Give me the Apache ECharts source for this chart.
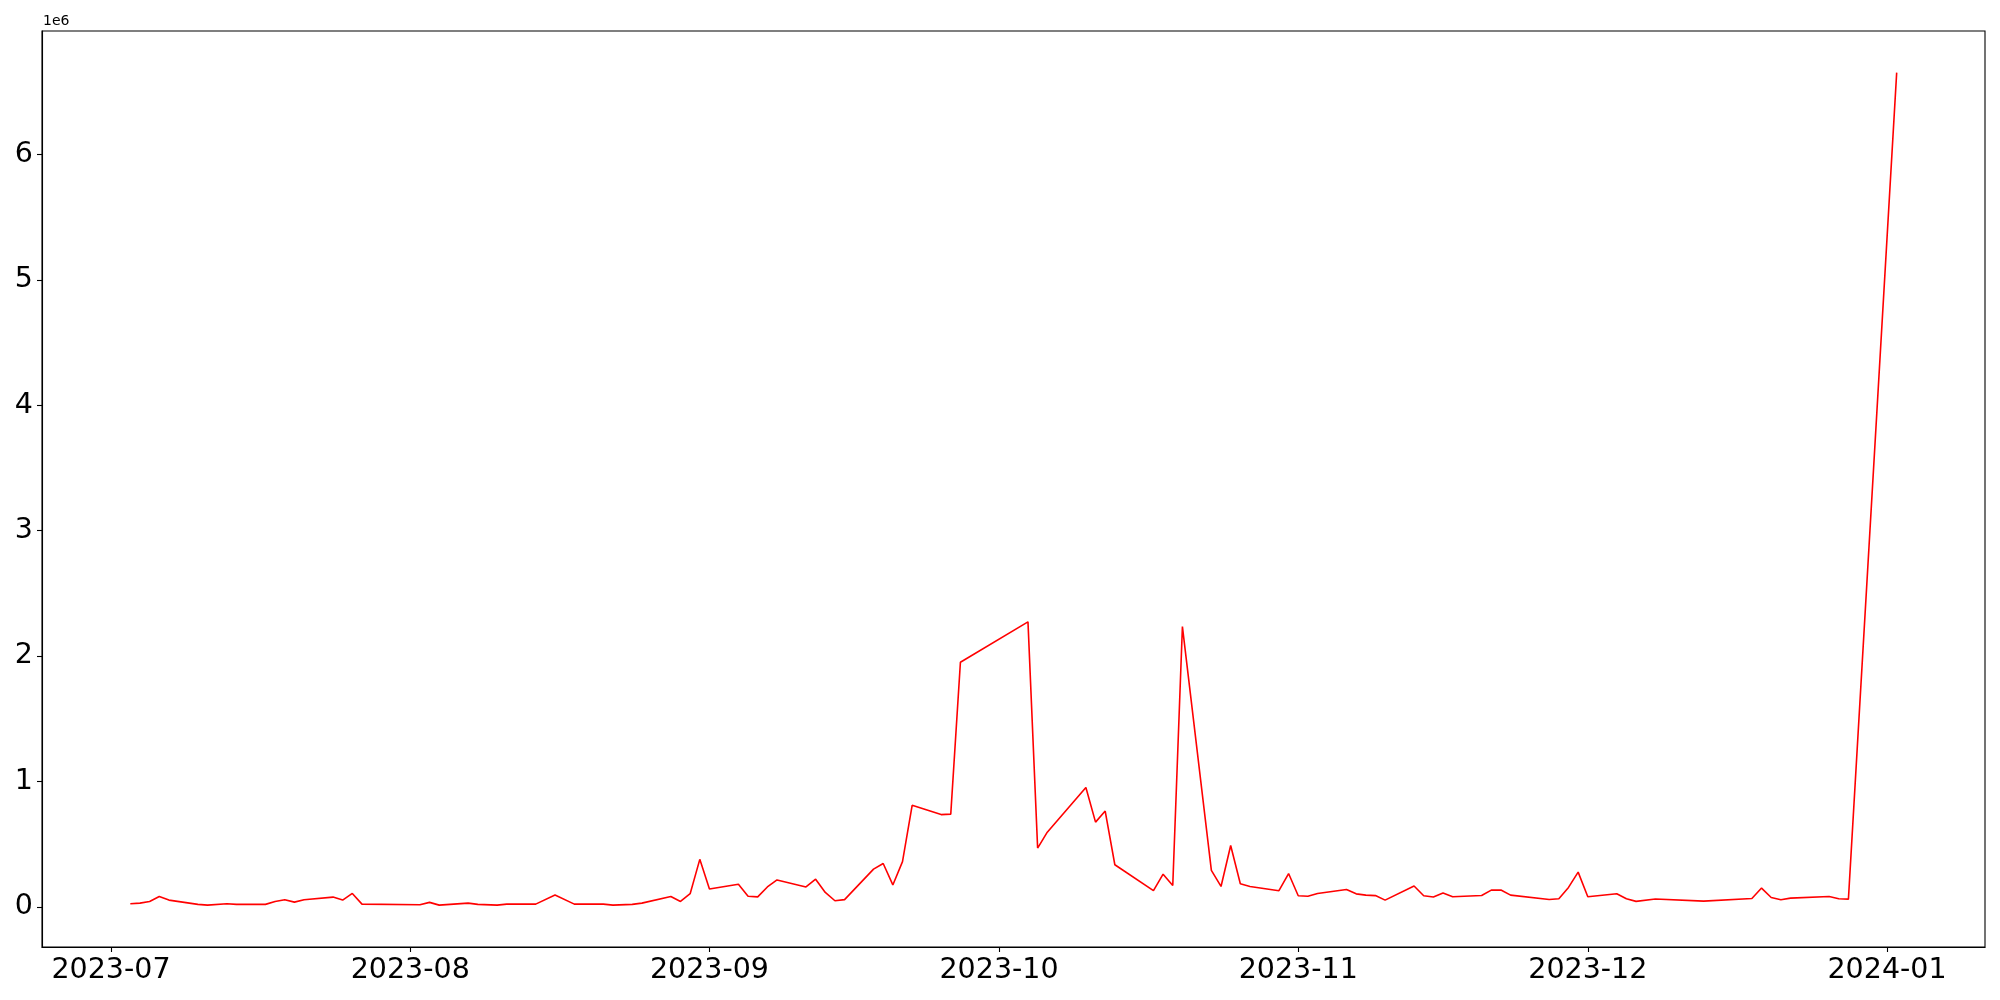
<!DOCTYPE html>
<html>
<head>
<meta charset="utf-8">
<script src="https://cdn.jsdelivr.net/npm/echarts@6/dist/echarts.min.js"></script>
<style>
html,body{margin:0;padding:0;background:#fff;}
#chart{width:2000px;height:1000px;}
</style>
</head>
<body>
<div id="chart"></div>
<script>
// dates (YYYY-MM-DD) and values
const dates = [
'2023-07-03','2023-07-04','2023-07-05','2023-07-06','2023-07-07','2023-07-10','2023-07-11','2023-07-13','2023-07-14',
'2023-07-17','2023-07-18','2023-07-19','2023-07-20','2023-07-21','2023-07-24','2023-07-25','2023-07-26','2023-07-27',
'2023-08-02','2023-08-03','2023-08-04','2023-08-07','2023-08-08','2023-08-10','2023-08-11','2023-08-14','2023-08-16',
'2023-08-18','2023-08-21','2023-08-22','2023-08-24','2023-08-25','2023-08-28','2023-08-29','2023-08-30','2023-08-31',
'2023-09-01','2023-09-04','2023-09-05','2023-09-06','2023-09-07','2023-09-08','2023-09-11','2023-09-12','2023-09-13',
'2023-09-14','2023-09-15','2023-09-18','2023-09-19','2023-09-20','2023-09-21','2023-09-22','2023-09-25','2023-09-26',
'2023-09-27','2023-10-04','2023-10-05','2023-10-06','2023-10-10','2023-10-11','2023-10-12','2023-10-13','2023-10-17',
'2023-10-18','2023-10-19','2023-10-20','2023-10-23','2023-10-24','2023-10-25','2023-10-26','2023-10-27','2023-10-30',
'2023-10-31','2023-11-01','2023-11-02','2023-11-03','2023-11-06','2023-11-07','2023-11-08','2023-11-09','2023-11-10',
'2023-11-13','2023-11-14','2023-11-15','2023-11-16','2023-11-17','2023-11-20','2023-11-21','2023-11-22','2023-11-23',
'2023-11-27','2023-11-28','2023-11-29','2023-11-30','2023-12-01','2023-12-04','2023-12-05','2023-12-06','2023-12-08',
'2023-12-13','2023-12-18','2023-12-19','2023-12-20','2023-12-21','2023-12-22','2023-12-26','2023-12-27','2023-12-28',
'2024-01-02'
];
const values = [
24000,29000,42000,82000,53000,19000,13000,24000,19000,
19000,42000,56000,37000,56000,77000,53000,106000,21000,
16000,35000,13000,29000,19000,13000,21000,21000,93000,
21000,21000,13000,19000,29000,82000,42000,104000,378000,
141000,180000,84000,79000,158000,214000,158000,220000,114000,
48000,57000,300000,345000,174000,360000,809000,735000,739000,
1950000,2272000,468000,595000,951000,675000,763000,335000,128000,
260000,170000,2235000,290000,162000,489000,183000,162000,128000,
265000,88000,84000,106000,138000,103000,93000,89000,53000,
166000,88000,78000,110000,80000,90000,133000,133000,93000,
58000,64000,154000,276000,80000,104000,64000,43000,62000,
45000,66000,149000,74000,56000,69000,82000,64000,61000,
6653000
];
const xTickDates = ['2023-07-01','2023-08-01','2023-09-01','2023-10-01','2023-11-01','2023-12-01','2024-01-01'];
const yTicks = [0,1000000,2000000,3000000,4000000,5000000,6000000];
const yMin = -321000, yMax = 6985000;

function ts(s){ const p = s.split('-').map(Number); return Date.UTC(p[0], p[1]-1, p[2]); }
const data = dates.map((d,i)=>[ts(d), values[i]]);
const t0 = ts(dates[0]), t1 = ts(dates[dates.length-1]);
const pad = 0.05*(t1-t0);
const xTicks = xTickDates.map(ts);
const FONT = 'DejaVu Sans';

const chart = echarts.init(document.getElementById('chart'), null, {renderer:'canvas'});
chart.setOption({
  animation:false,
  backgroundColor:'#ffffff',
  grid:{left:42, right:15, top:31, bottom:53, show:true, borderColor:'#000', borderWidth:1.1, backgroundColor:'transparent'},
  xAxis:{
    type:'value', min:t0-pad, max:t1+pad, scale:true,
    splitLine:{show:false},
    axisLine:{show:true, onZero:false, lineStyle:{color:'#000', width:1.1}},
    axisTick:{show:true, inside:false, length:5, lineStyle:{color:'#000', width:1.1}, customValues:xTicks},
    axisLabel:{customValues:xTicks, color:'#000', fontFamily:FONT, fontSize:28.5, margin:9, showMinLabel:true, showMaxLabel:true,
      formatter:function(v){ const d=new Date(v); return d.getUTCFullYear()+'-'+String(d.getUTCMonth()+1).padStart(2,'0'); }}
  },
  yAxis:{
    type:'value', min:yMin, max:yMax,
    splitLine:{show:false},
    axisLine:{show:true, onZero:false, lineStyle:{color:'#000', width:1.1}},
    axisTick:{show:true, inside:false, length:5, lineStyle:{color:'#000', width:1.1}, customValues:yTicks},
    axisLabel:{customValues:yTicks, color:'#000', fontFamily:FONT, fontSize:28.5, margin:9,
      formatter:function(v){ return String(Math.round(v/1e6)); }}
  },
  graphic:[{type:'text', left:43, top:14, style:{text:'1e6', fill:'#000', font:'14px "DejaVu Sans"'}}],
  series:[{
    type:'line', data:data, showSymbol:false, symbol:'none',
    lineStyle:{color:'#ff0000', width:1.6}, itemStyle:{color:'#ff0000'}
  }]
});
</script>
</body>
</html>
